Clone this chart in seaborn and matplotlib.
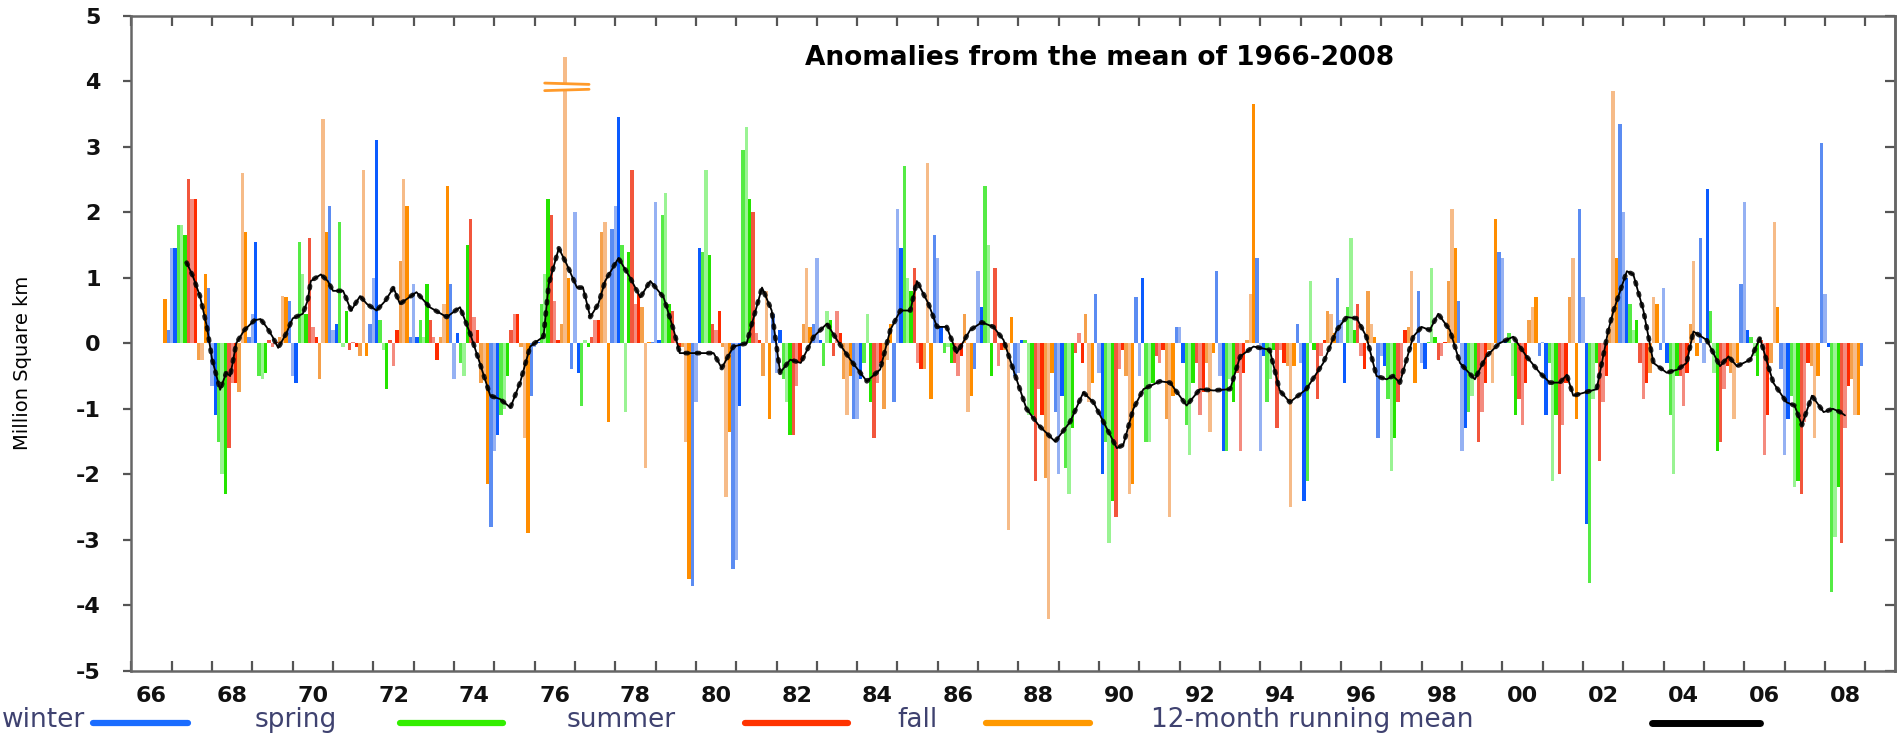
import numpy as np
import pandas as pd
import matplotlib
matplotlib.use("Agg")
import matplotlib.pyplot as plt
import seaborn as sns
from matplotlib.lines import Line2D
from matplotlib.patches import Rectangle

# ---------------- data (million km^2 anomalies, monthly) ----------------
# 1966 starts in November
a1966 = [0.68, 0.2]
a1967 = [1.45, 1.45, 1.8, 1.8, 1.65, 2.5, 2.2, 2.2, -0.25, -0.25, 1.05, 0.85]
a1968 = [-0.65, -1.1, -1.5, -2.0, -2.3, -1.6, -0.6, -0.6, -0.75, 2.6, 1.7, 0.1]
a1969 = [0.45, 1.55, -0.5, -0.55, -0.45, 0.05, -0.05, 0.02, 0.1, 0.72, 0.7, 0.65]
a1970 = [-0.5, -0.6, 1.55, 1.05, 0.45, 1.6, 0.25, 0.1, -0.55, 3.42, 1.7, 2.1]
a1971 = [0.2, 0.3, 1.85, -0.05, 0.5, -0.1, 0.02, -0.05, -0.2, 2.65, -0.2, 0.3]
a1972 = [1.0, 3.1, 0.35, -0.1, -0.7, 0.05, -0.35, 0.2, 1.25, 2.5, 2.1, 0.1]
a1973 = [0.9, 0.1, 0.35, 0.1, 0.9, 0.35, 0.1, -0.25, 0.1, 0.6, 2.4, 0.9]
a1974 = [-0.55, 0.15, -0.3, -0.5, 1.5, 1.9, 0.4, 0.2, -0.6, -0.5, -2.15, -2.8]
a1975 = [-1.65, -1.4, -1.1, -1.0, -0.5, 0.2, 0.45, 0.45, -0.05, -1.45, -2.9, -0.8]
a1976 = [-0.05, 0.02, 0.6, 1.05, 2.2, 1.95, 0.65, 0.05, 0.3, 4.37, 1.0, -0.4]
a1977 = [2.0, -0.45, -0.95, 0.05, -0.05, 0.1, 0.35, 0.35, 1.7, 1.85, -1.2, 1.75]
a1978 = [2.1, 3.45, 1.5, -1.05, 1.4, 2.65, 0.6, 0.75, 0.55, -1.9, 0.02, 0.02]
a1979 = [2.15, 0.05, 1.95, 2.3, 0.6, 0.5, 0.1, -0.05, -0.05, -1.5, -3.6, -3.7]
a1980 = [-0.9, 1.45, 1.4, 2.65, 1.35, 0.3, 0.2, 0.5, -0.05, -2.35, -1.35, -3.45]
a1981 = [-3.3, -0.95, 2.95, 3.3, 2.2, 2.0, 0.15, 0.05, -0.5, 0.8, -1.15, 0.45]
a1982 = [-0.45, 0.2, -0.55, -0.9, -1.4, -1.4, -0.65, -0.3, 0.3, 1.15, 0.25, 0.3]
a1983 = [1.3, 0.05, -0.35, 0.5, 0.35, -0.2, 0.5, 0.15, -0.55, -1.1, -0.5, -1.15]
a1984 = [-1.15, -0.55, -0.3, 0.45, -0.9, -1.45, -0.6, -0.3, -1.0, -0.25, 0.3, -0.9]
a1985 = [2.05, 1.45, 2.7, 1.0, 0.8, 1.15, -0.3, -0.4, -0.4, 2.75, -0.85, 1.65]
a1986 = [1.3, 0.25, -0.15, -0.05, -0.3, -0.3, -0.5, -0.2, 0.45, -1.05, -0.8, -0.4]
a1987 = [1.1, 0.55, 2.4, 1.5, -0.5, 1.15, -0.35, -0.1, -0.1, -2.85, 0.4, -0.5]
a1988 = [-0.45, 0.05, 0.05, -1.1, -1.1, -2.1, -0.7, -1.1, -2.05, -4.2, -0.45, -1.05]
a1989 = [-2.0, -0.8, -1.9, -2.3, -1.3, -0.15, 0.15, -0.3, 0.45, -0.9, -0.6, 0.75]
a1990 = [-0.45, -2.0, -1.5, -3.05, -2.4, -2.65, -0.4, -0.1, -0.5, -2.3, -2.15, 0.7]
a1991 = [-0.5, 1.0, -1.5, -1.5, -0.6, -0.2, -0.3, -0.1, -1.15, -2.65, -0.8, 0.25]
a1992 = [0.25, -0.3, -1.25, -1.7, -0.6, -0.3, -1.1, -0.75, -0.3, -1.35, -0.15, 1.1]
a1993 = [-0.5, -1.65, -1.65, -0.55, -0.9, -0.45, -1.65, -0.45, 0.05, 0.75, 3.65, 1.3]
a1994 = [-1.65, -0.2, -0.9, -0.55, -0.1, -1.3, -0.1, -0.3, -0.35, -2.5, -0.35, 0.3]
a1995 = [-0.3, -2.4, -2.1, 0.95, -0.1, -0.85, -0.2, 0.05, 0.5, 0.45, 0.15, 1.0]
a1996 = [0.35, -0.6, 0.55, 1.6, 0.2, 0.6, -0.2, -0.4, 0.8, 0.3, 0.1, -1.45]
a1997 = [-0.2, -0.35, -0.85, -1.95, -1.45, -0.9, -0.5, 0.2, 0.25, 1.1, -0.6, 0.8]
a1998 = [-0.3, -0.4, 0.02, 1.15, 0.1, -0.25, -0.2, 0.02, 0.95, 2.05, 1.45, 0.65]
a1999 = [-1.65, -1.3, -1.05, -0.8, -0.5, -1.5, -1.05, -0.6, -0.1, -0.6, 1.9, 1.4]
a2000 = [1.3, 0.05, 0.15, -0.5, -1.1, -0.85, -1.25, -0.6, 0.35, 0.55, 0.7, -0.2]
a2001 = [0.02, -1.1, -0.3, -2.1, -1.1, -2.0, -1.25, -0.6, 0.7, 1.3, -1.15, 2.05]
a2002 = [0.7, -2.75, -3.65, -0.85, -0.3, -1.8, -0.9, -0.5, 0.25, 3.85, 1.3, 3.35]
a2003 = [2.0, 1.0, 0.6, 0.2, 0.35, -0.3, -0.85, -0.6, -0.45, 0.7, 0.6, -0.1]
a2004 = [0.85, -0.3, -1.1, -2.0, -0.5, -0.5, -0.95, -0.45, 0.3, 1.25, -0.2, 1.6]
a2005 = [-0.3, 2.35, 0.5, -0.45, -1.65, -1.5, -0.7, -0.35, -0.45, -1.15, -0.3, 0.9]
a2006 = [2.15, 0.2, 0.1, -0.2, -0.5, 0.05, -1.7, -1.1, -0.3, 1.85, 0.55, -0.4]
a2007 = [-1.7, -1.15, -0.8, -2.2, -2.1, -2.3, -1.2, -0.3, -0.35, -1.45, -0.5, 3.05]
a2008 = [0.75, -0.05, -3.8, -2.95, -2.2, -3.05, -1.3, -0.65, -0.55, -1.1, -1.1, -0.35]

# 12-month running mean
rm_years = [1967.37, 1967.52, 1967.7, 1967.87, 1968.0, 1968.2, 1968.35, 1968.45, 1968.6, 1968.8,
            1969.05, 1969.2, 1969.35, 1969.5, 1969.64, 1969.84, 1970.0, 1970.25, 1970.37, 1970.45,
            1970.7, 1970.87, 1971.0, 1971.25, 1971.45, 1971.67, 1971.84, 1972.08, 1972.3, 1972.5,
            1972.66, 1973.0, 1973.07, 1973.4, 1973.82, 1974.15, 1974.4, 1974.64, 1974.9, 1975.14,
            1975.4, 1975.64, 1975.89, 1976.1, 1976.22, 1976.35, 1976.6, 1976.8, 1977.05, 1977.2,
            1977.38, 1977.58, 1977.75, 1978.08, 1978.37, 1978.62, 1978.87, 1979.2, 1979.45, 1979.6,
            1979.95, 1980.2, 1980.44, 1980.64, 1980.93, 1981.26, 1981.39, 1981.64, 1981.88, 1982.09,
            1982.34, 1982.6, 1982.92, 1983.25, 1983.5, 1983.83, 1984.24, 1984.57, 1984.82, 1985.07,
            1985.32, 1985.48, 1985.77, 1985.98, 1986.22, 1986.47, 1986.8, 1987.09, 1987.38, 1987.63,
            1987.87, 1988.2, 1988.5, 1988.91, 1989.28, 1989.61, 1989.86, 1990.19, 1990.44, 1990.6,
            1990.85, 1991.1, 1991.51, 1991.76, 1992.17, 1992.5, 1992.84, 1993.25, 1993.5, 1993.83,
            1994.23, 1994.48, 1994.73, 1995.14, 1995.56, 1995.89, 1996.14, 1996.39, 1996.63, 1996.88,
            1997.13, 1997.29, 1997.46, 1997.79, 1998.0, 1998.2, 1998.41, 1998.7, 1998.95, 1999.32,
            1999.6, 1999.93, 2000.27, 2000.6, 2000.93, 2001.18, 2001.43, 2001.6, 2001.76, 2002.05,
            2002.34, 2002.63, 2002.76, 2003.09, 2003.25, 2003.5, 2003.75, 2004.08, 2004.35, 2004.57,
            2004.74, 2005.07, 2005.4, 2005.61, 2005.82, 2006.15, 2006.39, 2006.72, 2007.05, 2007.25,
            2007.43, 2007.68, 2007.97, 2008.2, 2008.38, 2008.5]
rm_values = [1.23, 1.03, 0.72, 0.26, -0.24, -0.71, -0.45, -0.5, 0.0, 0.2,
             0.35, 0.37, 0.25, 0.1, -0.07, 0.15, 0.38, 0.45, 0.65, 0.95,
             1.05, 0.95, 0.8, 0.8, 0.5, 0.72, 0.6, 0.5, 0.65, 0.85,
             0.6, 0.75, 0.78, 0.55, 0.4, 0.55, 0.15, -0.3, -0.8, -0.85,
             -0.98, -0.6, -0.05, 0.05, 0.1, 0.9, 1.45, 1.2, 0.85, 0.85,
             0.4, 0.6, 0.95, 1.3, 1.0, 0.7, 0.95, 0.7, 0.2, -0.15,
             -0.15, -0.15, -0.15, -0.38, -0.05, 0.0, 0.3, 0.85, 0.5, -0.45,
             -0.25, -0.3, 0.1, 0.3, 0.05, -0.25, -0.58, -0.4, 0.2, 0.5,
             0.5, 0.95, 0.6, 0.25, 0.25, -0.15, 0.2, 0.32, 0.25, 0.05,
             -0.4, -1.0, -1.25, -1.5, -1.2, -0.75, -0.9, -1.3, -1.6, -1.55,
             -1.0, -0.7, -0.58, -0.6, -0.95, -0.7, -0.72, -0.7, -0.2, -0.05,
             -0.1, -0.72, -0.9, -0.7, -0.3, 0.2, 0.4, 0.38, 0.1, -0.5,
             -0.55, -0.5, -0.6, 0.1, 0.25, 0.2, 0.45, 0.2, -0.3, -0.55,
             -0.2, 0.0, 0.1, -0.2, -0.45, -0.6, -0.6, -0.48, -0.8, -0.75,
             -0.7, 0.2, 0.5, 1.1, 1.05, 0.5, -0.3, -0.45, -0.4, -0.3,
             0.18, 0.05, -0.35, -0.2, -0.35, -0.25, 0.08, -0.6, -0.9, -0.95,
             -1.25, -0.8, -1.05, -1.0, -1.05, -1.1]

xtick_labels = ['66', '68', '70', '72', '74', '76', '78', '80', '82', '84', '86',
                '88', '90', '92', '94', '96', '98', '00', '02', '04', '06', '08']
ytick_values = [-5, -4, -3, -2, -1, 0, 1, 2, 3, 4, 5]
ytick_labels = ['-5', '-4', '-3', '-2', '-1', '0', '1', '2', '3', '4', '5']
season_names = ['winter', 'spring', 'summer', 'fall']
title_text = 'Anomalies from the mean of 1966-2008'
ylabel_text = 'Million Square km'
mean_label = '12-month running mean'

# ---------------- colours ----------------
season_shades = {
    'winter': ['#5b8cf2', '#95b1f3', '#0b5bff'],
    'spring': ['#55eb45', '#9af393', '#25e400'],
    'summer': ['#f2563c', '#f48b7f', '#ff2b00'],
    'fall':   ['#f5a04a', '#f6bb88', '#ff8d00'],
}
legend_colors = {'winter': '#1a6cff', 'spring': '#33ee00', 'summer': '#ff3300', 'fall': '#ff9900'}

# ---------------- build table ----------------
year_lists = [(1966, a1966), (1967, a1967), (1968, a1968), (1969, a1969), (1970, a1970),
              (1971, a1971), (1972, a1972), (1973, a1973), (1974, a1974), (1975, a1975),
              (1976, a1976), (1977, a1977), (1978, a1978), (1979, a1979), (1980, a1980),
              (1981, a1981), (1982, a1982), (1983, a1983), (1984, a1984), (1985, a1985),
              (1986, a1986), (1987, a1987), (1988, a1988), (1989, a1989), (1990, a1990),
              (1991, a1991), (1992, a1992), (1993, a1993), (1994, a1994), (1995, a1995),
              (1996, a1996), (1997, a1997), (1998, a1998), (1999, a1999), (2000, a2000),
              (2001, a2001), (2002, a2002), (2003, a2003), (2004, a2004), (2005, a2005),
              (2006, a2006), (2007, a2007), (2008, a2008)]

def season_of(mo):
    if mo in (12, 1, 2):
        return 'winter'
    if mo in (3, 4, 5):
        return 'spring'
    if mo in (6, 7, 8):
        return 'summer'
    return 'fall'

rows = []
for yr, vals in year_lists:
    first = 13 - len(vals)
    for k, v in enumerate(vals):
        mo = first + k
        s = season_of(mo)
        pos = (mo % 12) % 3
        rows.append({'x': round(yr + (mo - 1) / 12.0, 5), 'val': v, 'shade': f'{s}{pos}'})
df = pd.DataFrame(rows)

palette = {f'{s}{i}': season_shades[s][i] for s in season_names for i in range(3)}
hue_order = list(palette.keys())

# ---------------- plot ----------------
sns.set_theme(style='white')
plt.rcParams['font.family'] = ['DejaVu Sans']

fig = plt.figure(figsize=(18.99, 7.38), dpi=100)
ax = fig.add_axes([0.0692, 0.0908, 0.9287, 0.8881])

sns.barplot(data=df, x='x', y='val', hue='shade', hue_order=hue_order, palette=palette,
            native_scale=True, dodge=False, width=1.0, errorbar=None, legend=False,
            linewidth=0, saturation=1, ax=ax)

# broken-bar mark on the tallest bar
imax = df['val'].idxmax()
bx = df.loc[imax, 'x']
ax.add_patch(Rectangle((bx - 0.06, 3.875), 0.12, 0.075, facecolor='white', edgecolor='none', zorder=3))
ax.plot([bx - 0.5, bx + 0.6], [3.97, 3.95], color='#ff9a2a', lw=2.0, zorder=4)
ax.plot([bx - 0.5, bx + 0.6], [3.855, 3.875], color='#ff9a2a', lw=2.0, zorder=4)

# running mean
sns.lineplot(x=rm_years, y=rm_values, color='black', lw=1.3, ax=ax, zorder=5)
ax.plot(rm_years, rm_values, color='black', lw=3.4, ls=(0, (0.5, 1.9)),
        dash_capstyle='round', alpha=0.85, zorder=6)

ax.set_xlim(1966, 2009.74)
ax.set_ylim(-5, 5)
ax.set_xlabel('')
ax.set_ylabel('')

# x ticks: yearly marks, labels every other year in the middle of the year
ax.set_xticks(np.arange(1966, 2010))
ax.set_xticklabels([])
ax.set_xticks([1966.5 + 2 * i for i in range(len(xtick_labels))], minor=True)
ax.set_xticklabels(xtick_labels, minor=True, fontsize=16, fontweight='bold')
ax.tick_params(axis='x', which='major', direction='in', length=7, width=1.6,
               color='#555555', top=True, bottom=True)
ax.tick_params(axis='x', which='minor', length=0, pad=11, labelcolor='#111111')

ax.set_yticks(ytick_values)
ax.set_yticklabels(ytick_labels, fontsize=16, fontweight='bold')
ax.tick_params(axis='y', which='major', direction='out', length=6, width=1.6,
               color='#555555', pad=16, labelcolor='#111111', left=True, right=False)
sec = ax.secondary_yaxis('right')
sec.set_yticks(ytick_values)
sec.set_yticklabels([])
sec.tick_params(direction='in', length=7, width=1.6, color='#555555')
sec.spines['right'].set_color('#666666')
sec.spines['right'].set_linewidth(1.8)

for sp in ax.spines.values():
    sp.set_color('#666666')
    sp.set_linewidth(1.8)
    sp.set_visible(True)

ax.text(0.5487, 0.936, title_text, transform=ax.transAxes, ha='center', va='center',
        fontsize=19, fontweight='bold', color='black')

fig.text(0.0116, 0.508, ylabel_text, rotation=90, ha='center', va='center',
         fontsize=14, color='black')

# ---------------- bottom legend ----------------
leg_y_text = 0.0244
leg_y_line = 0.0203
txt_color = '#3f4270'
legend_text_x = {'winter': 0.0011, 'spring': 0.1343, 'summer': 0.2986, 'fall': 0.4724}
legend_line_x = {'winter': (0.0490, 0.0990), 'spring': (0.2106, 0.2649),
                 'summer': (0.3923, 0.4466), 'fall': (0.5192, 0.5740)}
for s in season_names:
    fig.text(legend_text_x[s], leg_y_text, s, ha='left', va='center', fontsize=19, color=txt_color)
    x0, x1 = legend_line_x[s]
    fig.add_artist(Line2D([x0, x1], [leg_y_line, leg_y_line], color=legend_colors[s], lw=4.5,
                          transform=fig.transFigure))
fig.text(0.6061, leg_y_text, mean_label, ha='left', va='center', fontsize=19, color=txt_color)
fig.add_artist(Line2D([0.8699, 0.9268], [leg_y_line, leg_y_line], color='black', lw=5,
                      transform=fig.transFigure))

fig.savefig('out.png', dpi=100, facecolor='white')
